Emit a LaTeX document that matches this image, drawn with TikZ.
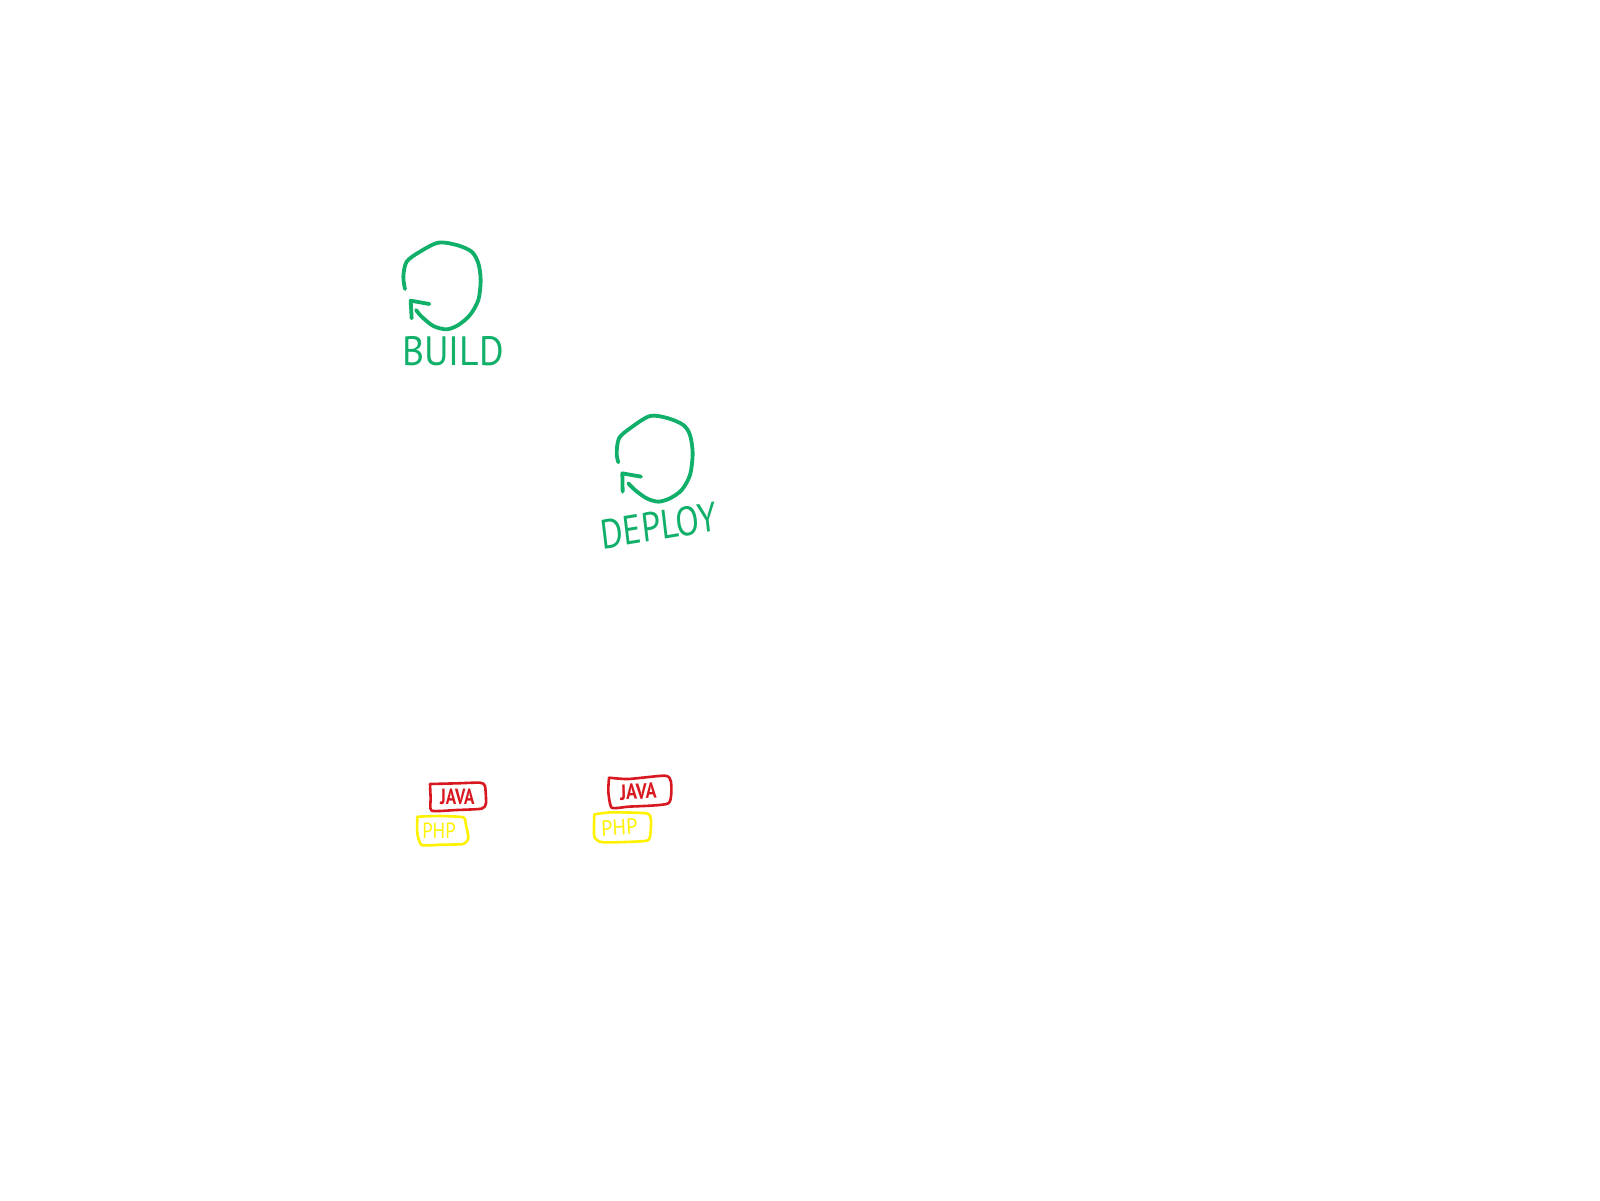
\documentclass[tikz,border=0pt]{standalone}
\usepackage{fontspec}
\setmainfont{PT Sans}
\definecolor{sketchgreen}{RGB}{16,176,106}
\definecolor{sketchred}{RGB}{216,24,32}
\definecolor{sketchyellow}{RGB}{255,242,0}
\tikzset{
  loopline/.style={draw=sketchgreen,line width=3.8pt,line cap=round,line join=round},
  redbox/.style={draw=sketchred,line width=2.6pt,line cap=round,line join=round},
  yellowbox/.style={draw=sketchyellow,line width=2.6pt,line cap=round,line join=round},
  zoomed/.style={x=0.3333pt,y=-0.3333pt},
  biglabel/.style={text=sketchgreen,inner sep=0pt,font=\fontsize{41}{41}\selectfont},
  javalabel/.style={text=sketchred,inner sep=0pt,font=\bfseries\fontsize{22}{22}\selectfont},
  phplabel/.style={text=sketchyellow,inner sep=0pt,font=\fontsize{22}{22}\selectfont}
}
\begin{document}
\begin{tikzpicture}[x=1pt,y=-1pt]
\useasboundingbox (0,0) rectangle (1600,1200);
% BUILD
\begin{scope}[shift={(380,220)},zoomed]
  \draw[loopline] plot[smooth,tension=.5] coordinates {(75,207) (70,170) (80,125) (120,95) (175,68) (230,75) (275,95) (295,130) (302,180) (295,240) (270,285) (235,315) (200,328) (160,318) (125,290) (108,270)};
  \draw[loopline] (95,295) -- (92,242) -- (148,252);
  \node[biglabel,xscale=.92] (build) at (219,395) {BUILD};
\end{scope}
% DEPLOY
\begin{scope}[shift={(590,400)},zoomed]
  \draw[loopline] plot[smooth,tension=.5] coordinates {(85,187) (80,160) (87,115) (120,85) (180,48) (235,55) (280,75) (300,105) (308,160) (300,225) (275,270) (240,295) (205,305) (170,295) (135,270) (115,250)};
  \draw[loopline] (98,275) -- (97,220) -- (153,230);
  \node[biglabel,xscale=.84,rotate=8] (deploy) at (207,377) {DEPLOY};
\end{scope}
% first pair
\begin{scope}[shift={(400,770)},zoomed]
  \draw[redbox] plot[smooth,tension=.35] coordinates {(90,42) (170,40) (240,38) (255,48) (258,100) (245,116) (170,120) (95,122) (92,85) (90,42)};
  \node[javalabel,xscale=.78] (java1) at (172,82) {JAVA};
  \draw[yellowbox] plot[smooth,tension=.35] coordinates {(52,140) (120,138) (190,142) (198,165) (205,205) (190,222) (125,224) (65,225) (52,190) (52,140)};
  \node[phplabel,xscale=.85] (php1) at (117,183) {PHP};
\end{scope}
% second pair
\begin{scope}[shift={(585,765)},zoomed]
  \draw[redbox] plot[smooth,tension=.35] coordinates {(72,38) (130,42) (240,32) (258,50) (250,115) (130,125) (80,128) (70,80) (72,38)};
  \node[javalabel,xscale=.82,rotate=2] (java2) at (160,80) {JAVA};
  \draw[yellowbox] plot[smooth,tension=.35] coordinates {(28,148) (80,142) (185,145) (198,165) (195,215) (180,228) (55,232) (28,215) (28,148)};
  \node[phplabel,xscale=.92,rotate=3] (php2) at (103,187) {PHP};
\end{scope}
\end{tikzpicture}
\end{document}
